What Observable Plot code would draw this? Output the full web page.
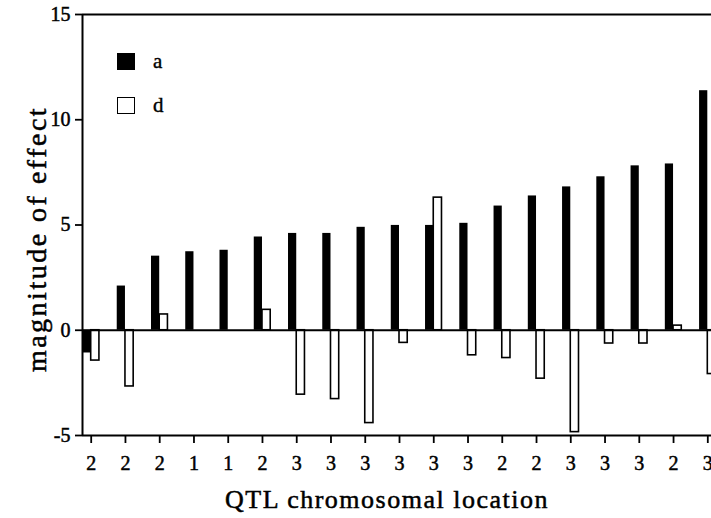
<!DOCTYPE html>
<html>
<head>
<meta charset="utf-8">
<script src="https://cdn.jsdelivr.net/npm/d3@7"></script>
<script src="https://cdn.jsdelivr.net/npm/@observablehq/plot@0.6"></script>
<style>
  html, body { margin: 0; padding: 0; background: #fff; overflow: hidden; }
  #wrap { position: relative; width: 711px; height: 518px; font-family: "Liberation Serif", "Times New Roman", serif; }
  #wrap svg text { stroke: #000; stroke-width: 0.5px; }
  .leg { position: absolute; left: 117px; display: flex; align-items: center; font-size: 21px; color: #000; -webkit-text-stroke: 0.4px #000; }
  .sw { width: 18px; height: 17px; box-sizing: border-box; border: 1.6px solid #000; margin-right: 18px; }
</style>
</head>
<body>
<div id="wrap"></div>
<script>
// Chromosome of each QTL (x tick labels)
const chrom = [2, 2, 2, 1, 1, 2, 3, 3, 3, 3, 3, 3, 2, 2, 3, 3, 3, 2, 3];
// additive effect (a, black bars)
const aVals = [-1.08, 2.1, 3.52, 3.73, 3.8, 4.43, 4.6, 4.6, 4.89, 4.98, 4.98, 5.08, 5.9, 6.38, 6.81, 7.29, 7.81, 7.9, 11.38];
// dominance effect (d, white bars); null = not shown
const dVals = [-1.44, -2.67, 0.75, null, null, 0.97, -3.06, -3.27, -4.41, -0.6, 6.3, -1.19, -1.32, -2.3, -4.84, -0.63, -0.63, 0.22, -2.08];
const yTicks = [-5, 0, 5, 10, 15];
const xLabel = "QTL chromosomal location";
const yLabel = "magnitude of effect";

const bw = 0.24;
const aData = aVals.map((v, i) => ({i, v}));
const dData = dVals.map((v, i) => ({i, v})).filter(d => d.v != null);
const idx = d3.range(chrom.length);

const font = '"Liberation Serif", "Times New Roman", serif';

const chart = Plot.plot({
  width: 711,
  height: 518,
  marginLeft: 82,
  marginRight: 0,
  marginTop: 14,
  marginBottom: 83,
  style: {fontFamily: font, background: "#fff", color: "#000", overflow: "visible"},
  x: {type: "linear", domain: [-0.254, 18.108]},
  y: {domain: [-5, 15]},
  marks: [
    Plot.rectY(aData, {x1: d => d.i - bw, x2: d => d.i, y1: 0, y2: "v", fill: "#000"}),
    Plot.rectY(dData, {x1: d => d.i, x2: d => d.i + bw, y1: 0, y2: "v", fill: "#fff", stroke: "#000", strokeWidth: 1.6}),
    Plot.ruleY([0], {stroke: "#000", strokeWidth: 1.8}),
    Plot.ruleY([15], {stroke: "#000", strokeWidth: 2}),
    Plot.ruleY([-5], {stroke: "#000", strokeWidth: 2}),
    Plot.ruleX([-0.254], {stroke: "#000", strokeWidth: 2}),
    Plot.axisY({ticks: yTicks, tickFormat: d => String(d), tickSize: 7, tickPadding: 5, fontSize: 20, label: null, strokeWidth: 1.8}),
    Plot.axisX({ticks: idx, tickFormat: i => chrom[i], tickSize: 8, tickPadding: 12, fontSize: 20, label: null, strokeWidth: 1.8}),
    Plot.text([xLabel], {frameAnchor: "bottom", text: d => d, dx: -10, dy: 64, fontSize: 26, lineAnchor: "middle", textAnchor: "middle", fill: "#000"}),
    Plot.text([yLabel], {frameAnchor: "left", text: d => d, rotate: -90, dx: -45, dy: 14, fontSize: 28, lineAnchor: "middle", textAnchor: "middle", fill: "#000"})
  ]
});

const wrap = document.getElementById("wrap");
wrap.appendChild(chart);
chart.querySelectorAll("text").forEach(t => {
  if (t.textContent === yLabel) t.style.letterSpacing = "2.5px";
  if (t.textContent === xLabel) t.style.letterSpacing = "1.5px";
});

const legend = [
  {label: "a", fill: "#000", top: 49},
  {label: "d", fill: "#fff", top: 93}
];
legend.forEach(l => {
  const row = document.createElement("div");
  row.className = "leg";
  row.style.top = l.top + "px";
  const sw = document.createElement("div");
  sw.className = "sw";
  sw.style.background = l.fill;
  const tx = document.createElement("span");
  tx.textContent = l.label;
  row.appendChild(sw);
  row.appendChild(tx);
  wrap.appendChild(row);
});
</script>
</body>
</html>
